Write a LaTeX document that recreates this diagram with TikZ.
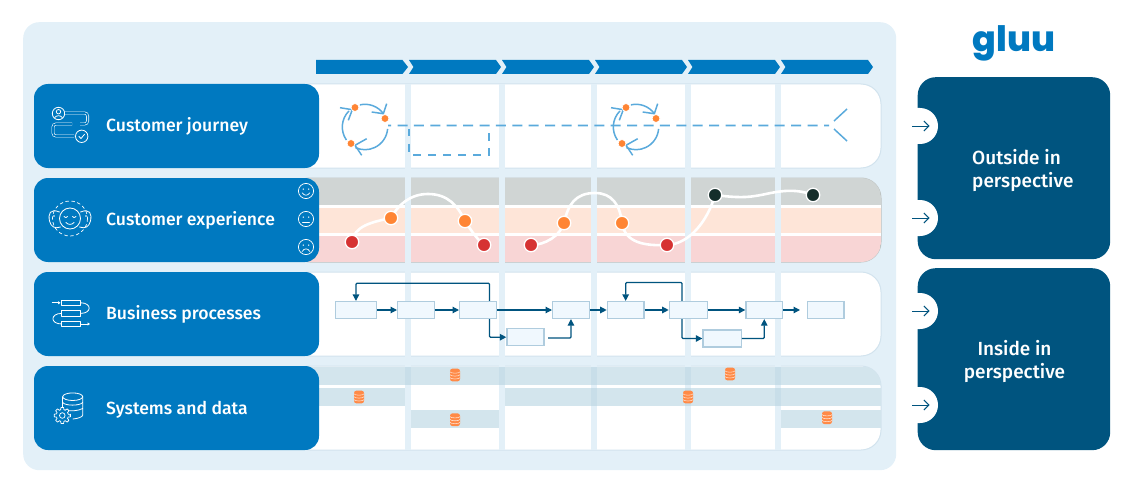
\documentclass[tikz,border=0pt]{standalone}
\usepackage{fontspec}
\usetikzlibrary{arrows.meta}
\newfontfamily\labelfont{Fira Sans Medium}
\newfontfamily\logofont{Poppins ExtraBold}
\definecolor{panelbg}{HTML}{E3F0F8}
\definecolor{laneedge}{HTML}{D2E3EE}
\definecolor{gluublue}{HTML}{0079C0}
\definecolor{deepblue}{HTML}{00547F}
\definecolor{skyline}{HTML}{5AAADC}
\definecolor{moodgrey}{HTML}{D0D5D4}
\definecolor{moodpeach}{HTML}{FEE5D8}
\definecolor{moodpink}{HTML}{F8D5D5}
\definecolor{dotred}{HTML}{D63232}
\definecolor{dotorange}{HTML}{FF8534}
\definecolor{dotdark}{HTML}{152E2B}
\definecolor{boxfill}{HTML}{F0F8FE}
\definecolor{boxline}{HTML}{AFCCDE}
\definecolor{sysband}{HTML}{D3E5ED}
\definecolor{sysover}{HTML}{C8DEE9}
\definecolor{dbfill}{HTML}{FF8A47}
\tikzset{
  lanelabel/.style={font=\labelfont\fontsize{17.6}{20}\selectfont,text=white,anchor=base west,inner sep=0pt},
  sidelabel/.style={font=\labelfont\fontsize{19}{23}\selectfont,text=white,inner sep=0pt,align=#1},
  lanebase/.style={fill=white,draw=laneedge,line width=1pt,rounded corners=20pt},
  headblue/.style={fill=gluublue,rounded corners=14pt},
  bar/.style={fill=panelbg,draw=none},
  overlap/.style={fill=sysover,draw=none},
  band/.style={fill=sysband,draw=none},
  chev/.style={fill=gluublue,draw=none},
  dot/.style={circle,draw=white,line width=1.3pt,minimum size=13.5pt,inner sep=0pt,fill=#1},
  moodline/.style={draw=white,line width=2.6pt},
  procbox/.style={draw=boxline,fill=boxfill,line width=1.2pt,minimum width=#1,minimum height=17pt,inner sep=0pt},
  flow/.style={draw=deepblue,line width=1.2pt,-{Triangle[length=6.5pt,width=6.5pt]},rounded corners=1pt},
  cyclearc/.style={draw=skyline,line width=1.5pt},
  ico/.style={draw=white,line width=0.8pt,line cap=round,line join=round},
  pipe/.style={draw=white,line width=0.6pt,double=gluublue,double distance=1.6pt,rounded corners=3pt},
  inarrow/.style={draw=deepblue,line width=0.9pt,-{Straight Barb[length=5pt,width=10pt]}},
  cycle icon/.pic={
    \draw[cyclearc] (103:22.7) arc[start angle=103,end angle=36,radius=22.7];
    \draw[cyclearc] (-5:22.7) arc[start angle=-5,end angle=-115,radius=22.7];
    \draw[cyclearc] (215:22.7) arc[start angle=215,end angle=135,radius=22.7];
    \draw[cyclearc] (21.7,23.3) -- (18.3,13.3) -- (6.7,15);
    \draw[cyclearc] (1.7,-11.7) -- (-10,-18.3) -- (-3.3,-28.3);
    \draw[cyclearc] (-25,19.3) -- (-12.7,17.3) -- (-16.7,6.7);
    \node[circle,fill=dotorange,draw=white,line width=.8pt,minimum size=8pt,inner sep=0pt] at (-10,19.5) {};
    \node[circle,fill=dotorange,draw=white,line width=.8pt,minimum size=8pt,inner sep=0pt] at (20,8.5) {};
    \node[circle,fill=dotorange,draw=white,line width=.8pt,minimum size=8pt,inner sep=0pt] at (-14,-16.5) {};
  },
  db icon/.pic={
    \fill[dbfill,rounded corners=2.5pt] (-5,-6.4) rectangle (5,6.4);
    \draw[white!75!dbfill,line width=.55pt] (-5,3.2) arc[start angle=180,end angle=360,x radius=5,y radius=1.4];
    \draw[white!75!dbfill,line width=.55pt] (-5,0.3) arc[start angle=180,end angle=360,x radius=5,y radius=1.4];
    \draw[white!75!dbfill,line width=.55pt] (-5,-2.6) arc[start angle=180,end angle=360,x radius=5,y radius=1.4];
  },
  face/.pic={
    \draw[ico,line width=.7pt] (0,0) circle[radius=7.6];
    \fill[white] (-2.7,-1.9) circle[radius=.75] (2.7,-1.9) circle[radius=.75];
  }
}
\begin{document}
\begin{tikzpicture}[x=1pt,y=-1pt]
\useasboundingbox (0,0) rectangle (1140,484);
% outer panel
\node[fill=panelbg,rounded corners=16pt,minimum width=873pt,minimum height=448pt,inner sep=0pt,anchor=north west] (panel) at (23,22) {};

% phase chevrons
\fill[chev] (316,60) -- (402.5,60) -- (408,67) -- (402.5,74) -- (316,74) -- cycle;
\fill[chev] (409,60) -- (496,60) -- (501,67) -- (496,74) -- (409,74) -- (413.5,67) -- cycle;
\fill[chev] (502,60) -- (589,60) -- (594,67) -- (589,74) -- (502,74) -- (506.5,67) -- cycle;
\fill[chev] (595,60) -- (682,60) -- (687,67) -- (682,74) -- (595,74) -- (599.5,67) -- cycle;
\fill[chev] (688,60) -- (775,60) -- (780,67) -- (775,74) -- (688,74) -- (692.5,67) -- cycle;
\fill[chev] (781,60) -- (868,60) -- (873,67) -- (868,74) -- (781,74) -- (785.5,67) -- cycle;

% swimlane bases
\path[lanebase] (290,84) rectangle (881,168);
\path[lanebase] (290,272) rectangle (881,356);
\path[lanebase] (290,366) rectangle (881,450);

% experience lane mood bands
\path[lanebase,draw=moodgrey!92!black,fill=moodgrey] (290,178) rectangle (881,262);
\begin{scope}
  \clip[rounded corners=20pt] (290,178) rectangle (881,262);
  \fill[moodgrey] (290,178) rectangle (881,204.5);
  \fill[white] (290,204.5) rectangle (881,207.5);
  \fill[moodpeach] (290,207.5) rectangle (881,233);
  \fill[white] (290,233) rectangle (881,236);
  \fill[moodpink] (290,236) rectangle (881,262);
\end{scope}

% systems lane bands
\begin{scope}
  \clip[rounded corners=20pt] (290,366) rectangle (881,450);
  \fill[band] (290,366.5) rectangle (881,384.5);
  \fill[band] (290,387.5) rectangle (405,406);
  \fill[band] (505,387.5) rectangle (881,406);
  \fill[band] (411,410) rectangle (499,428);
  \fill[band] (781,410) rectangle (881,428);
\end{scope}

% phase separators, darker where they cross a systems band
\foreach \x in {405,499,591,685,775}{
  \fill[bar] (\x,84) rectangle (\x+6,450);
  \fill[overlap] (\x,366.5) rectangle (\x+6,384.5);
}
\foreach \x in {591,685,775}{
  \fill[overlap] (\x,387.5) rectangle (\x+6,406);
}

% journey lane
\pic at (365,127) [yscale=-1] {cycle icon};
\pic at (636,127) [yscale=-1] {cycle icon};
\coordinate (jstart) at (397.5,124.7);
\coordinate (jhead) at (388,124.7);
\coordinate (jlast) at (824,124.7);
\fill[skyline] (jhead) rectangle ++(3,1.8) (jlast) rectangle ++(5,1.8)
  \foreach \i in {0,...,25} { (jstart) ++(\i*16.4,0) rectangle ++(10,1.8) };
\coordinate (stubTL) at (409,129);
\coordinate (stubBL) at (409,155);
\coordinate (stubBR) at (489,155);
\coordinate (stubTR) at (489,129);
\draw[skyline,line width=1.5pt,dash pattern=on 7.5pt off 7.5pt] (stubTL) -- (stubBL) -- (stubBR) -- (stubTR);
\coordinate (tailA) at (834,121);
\coordinate (tailB) at (847,109);
\coordinate (tailC) at (834,129);
\coordinate (tailD) at (847,141);
\draw[cyclearc] (tailA) -- (tailB) (tailC) -- (tailD);

% experience curve
\coordinate (peakA) at (428,194);
\coordinate (peakB) at (595,193);
\coordinate (waveM) at (755,196);
\draw[moodline] (352,242) .. controls (354,226) and (372,222) .. (391,218)
  .. controls (398,205) and (410,194) .. (peakA)
  .. controls (448,194) and (458,206) .. (465,221)
  .. controls (472,232) and (478,240) .. (484,245);
\draw[moodline] (531,245) .. controls (545,245) and (560,236) .. (564,223)
  .. controls (568,205) and (575,193) .. (peakB)
  .. controls (612,193) and (620,205) .. (622,223)
  .. controls (625,243) and (645,246) .. (667,245)
  .. controls (690,244) and (708,220) .. (715,195)
  .. controls (730,197) and (743,198) .. (waveM)
  .. controls (770,194) and (790,186) .. (813,195);
\node[dot=dotred] (m1) at (352,242) {};
\node[dot=dotorange] (m2) at (391,218) {};
\node[dot=dotorange] (m3) at (465,221) {};
\node[dot=dotred] (m4) at (484,245) {};
\node[dot=dotred] (m5) at (531,245) {};
\node[dot=dotorange] (m6) at (564,223) {};
\node[dot=dotorange] (m7) at (622,223) {};
\node[dot=dotred] (m8) at (667,245) {};
\node[dot=dotdark] (m9) at (715,195) {};
\node[dot=dotdark] (m10) at (813,195) {};

% process lane
\node[procbox=40.7pt,anchor=west] (pa) at (335,310) {};
\node[procbox=36.7pt,anchor=west] (pb) at (397,310) {};
\node[procbox=36.7pt,anchor=west] (pc) at (459,310) {};
\node[procbox=36.7pt,anchor=west] (pd) at (552,310) {};
\node[procbox=37pt,anchor=west] (pe) at (506.3,337.2) {};
\node[procbox=36.7pt,anchor=west] (pf) at (606.7,310) {};
\node[procbox=38pt,anchor=west] (pg) at (668.7,310) {};
\node[procbox=36.7pt,anchor=west] (ph) at (745.3,310) {};
\node[procbox=36.7pt,anchor=west] (pi) at (806.7,310) {};
\node[procbox=38.4pt,anchor=west] (pj) at (702.3,338.5) {};
\coordinate (hEnd) at (800,310);
\coordinate (eOut) at (548,338);
\draw[flow] (pa) -- (pb);
\draw[flow] (pb) -- (pc);
\draw[flow] (pc) -- (pd);
\draw[flow] (pd) -- (pf);
\draw[flow] (pf) -- (pg);
\draw[flow] (pg) -- (ph);
\draw[flow] (ph) -- (hEnd);
\draw[flow] (pc.north east) ++(-7.4,0) -- ++(0,-17.7) -| (pa.north);
\draw[flow] (pc.south east) ++(-7.4,0) |- (pe.west);
\draw[flow] (eOut) -| (pd.south);
\draw[flow] (pg.north east) ++(-26,0) -- ++(0,-18.4) -| (pf.north);
\draw[flow] (pg.south east) ++(-26,0) |- (pj.west);
\draw[flow] (pj.east) -| (ph.south);

% data stores
\pic at (455,375) [yscale=-1] {db icon};
\pic at (359,397) [yscale=-1] {db icon};
\pic at (455,419.7) [yscale=-1] {db icon};
\pic at (730,374) [yscale=-1] {db icon};
\pic at (688,397) [yscale=-1] {db icon};
\pic at (827,417.7) [yscale=-1] {db icon};

% lane heads
\path[headblue] (34,84) rectangle (319,168);
\path[headblue] (34,178) rectangle (319,262);
\path[headblue] (34,272) rectangle (319,356);
\path[headblue] (34,366) rectangle (319,450);
\node[lanelabel] (l1) at (106,131.5) {Customer journey};
\node[lanelabel] (l2) at (106,225.5) {Customer experience};
\node[lanelabel] (l3) at (106,319.5) {Business processes};
\node[lanelabel] (l4) at (106,414) {Systems and data};

% mood faces
\pic at (306,191) {face};
\draw[ico,line width=.7pt] (302.2,192.8) .. controls (304,196) and (308,196) .. (309.8,192.8);
\pic at (306,219) {face};
\draw[ico,line width=.7pt] (302.5,222.3) -- (309.5,222.3);
\pic at (306,247) {face};
\draw[ico,line width=.7pt] (302.2,251.5) .. controls (304,248) and (308,248) .. (309.8,251.5);

% journey icon
\draw[ico] (58.5,113.5) circle[radius=6.2] (58.5,111.7) circle[radius=2.2];
\draw[ico] (54.6,117.8) .. controls (56,115) and (61,115) .. (62.4,117.8);
\draw[pipe] (65,113) -- (87.6,113) -- (87.6,124) -- (80,124);
\draw[pipe] (72,124) -- (53,124) -- (53,136) -- (74,136);
\draw[ico] (81.7,136.3) circle[radius=6.2];
\draw[ico] (79,136.5) -- (81,138.5) -- (84.5,134.3);

% experience icon
\draw[ico] (70,218.5) circle[radius=10.5];
\draw[ico,line width=.7pt,dash pattern=on 3pt off 3pt] (70,218.5) circle[radius=17.5];
\draw[ico] (59.5,212) .. controls (50,208) and (48,214) .. (49.5,221) .. controls (51,227) and (55,229) .. (60.5,227);
\draw[ico] (80.5,212) .. controls (90,208) and (92,214) .. (90.5,221) .. controls (89,227) and (85,229) .. (79.5,227);
\draw[ico] (64,216.5) .. controls (65,218) and (67,218) .. (67.5,216.5);
\draw[ico] (72.5,216.5) .. controls (73,218) and (75,218) .. (76,216.5);
\draw[ico] (66,222.5) .. controls (68,225) and (72,225) .. (74,222.5);
\fill[white] (54,216) circle[radius=.8] (86,216) circle[radius=.8];

% process icon
\draw[ico] (61.7,300) rectangle (80.7,305.7);
\draw[ico] (61.7,310.7) rectangle (80.7,316);
\draw[ico] (61.7,321) rectangle (80.7,326.7);
\draw[ico,-{Triangle[length=2.5pt,width=3pt]}] (52.3,302.8) -- (60.5,302.8);
\draw[ico,-{Triangle[length=2.5pt,width=3pt]}] (81,324) -- (90,324);
\draw[ico] (80.7,302.8) .. controls (92,302.8) and (92,313.4) .. (80.7,313.4);
\draw[ico] (61.7,313.4) .. controls (50,313.4) and (50,324) .. (61.7,324);

% systems icon
\draw[ico] (72.7,396.7) ellipse[x radius=10,y radius=3.8];
\draw[ico] (62.7,396.7) -- (62.7,407);
\draw[ico] (82.7,396.7) -- (82.7,415) .. controls (82.7,417) and (78,418.5) .. (73,419);
\draw[ico] (62.7,402.5) .. controls (65,406) and (80,406) .. (82.7,402.5);
\draw[ico] (65,410) .. controls (70,411.5) and (78,411) .. (82.7,408.5);
\begin{scope}[shift={(62.3,415.5)}]
  \draw[ico,line width=.75pt,fill=gluublue] (0:8.2) \foreach \a in {0,45,...,315}{ -- (\a-9:8.2) -- (\a+9:8.2) -- (\a+16:6) -- (\a+29:6) } -- cycle;
  \draw[ico,line width=.75pt] (0,0) circle[radius=2.8];
\end{scope}

% perspective panels
\node[fill=deepblue,rounded corners=18pt,minimum width=192.5pt,minimum height=182pt,inner sep=0pt,anchor=north west] (outside) at (917.5,77) {};
\node[fill=deepblue,rounded corners=18pt,minimum width=192.5pt,minimum height=182pt,inner sep=0pt,anchor=north west] (inside) at (917.5,268) {};
\foreach \y in {126,218,311,405}{
  \fill[white] (910,\y-18) -- (920,\y-18) arc[start angle=-90,end angle=90,radius=18] -- (910,\y+18) -- cycle;
}
\coordinate (a1s) at (912,126);
\coordinate (a1e) at (929.5,126);
\coordinate (a2s) at (912,218);
\coordinate (a2e) at (929.5,218);
\coordinate (a3s) at (912,311);
\coordinate (a3e) at (929.5,311);
\coordinate (a4s) at (912,405);
\coordinate (a4e) at (929.5,405);
\draw[inarrow] (a1s) -- (a1e);
\draw[inarrow] (a2s) -- (a2e);
\draw[inarrow] (a3s) -- (a3e);
\draw[inarrow] (a4s) -- (a4e);
\node[sidelabel=left,anchor=north west] (t1) at (972,149) {Outside in\\perspective};
\node[sidelabel=center,anchor=north] (t2) at (1014.5,340) {Inside in\\perspective};

% logo
\node[font=\logofont\fontsize{35}{35}\selectfont,text=gluublue,inner sep=0pt,anchor=base] (logo) at (1014,52) {gluu};
\end{tikzpicture}
\end{document}
